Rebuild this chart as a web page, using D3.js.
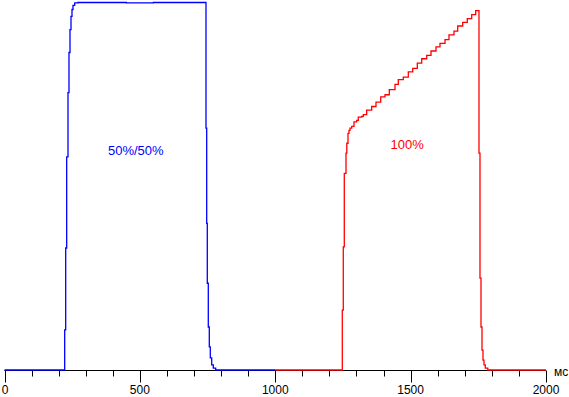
<!DOCTYPE html>
<html>
<head>
<meta charset="utf-8">
<script src="https://cdn.jsdelivr.net/npm/d3@7"></script>
<style>
  body { margin: 0; background: #fff; }
  svg { display: block; }
  text { font-family: "Liberation Sans", Arial, sans-serif; }
</style>
</head>
<body>
<div id="chart"></div>
<script>
// час у мс та яскравість (%)
var blueMs  = [0, 222.3, 226.0, 229.7, 234.5, 238.2, 241.9, 245.6, 249.3, 253.0, 259.3, 271.5,
               350, 450, 550, 650, 740, 744.2, 746.8, 749.0, 752.7, 756.4, 760.1, 765.3, 771.2, 780, 1000];
var blueVal = [0, 10.9, 33.2, 58.0, 75.5, 86.4, 92.6, 96.2, 98.1, 99.2, 99.9, 100,
               100, 99.9, 100, 100, 100, 65.8, 39.9, 23.6, 11.7, 6.3, 3.3, 1.4, 0.5, 0, 0];

var redMs  = [1000, 1247.6, 1251.3, 1255.0, 1261.3, 1264.3, 1268.7, 1272.4, 1276.1, 1282.4, 1290.8,
              1300.8, 1306.7, 1319.3, 1325.3, 1337.7, 1356.2, 1372.1, 1389.5, 1405.4, 1421.3,
              1442.3, 1454.5, 1473.0, 1491.4, 1507.7, 1524.7, 1540.9, 1559.4, 1575.3, 1593.7,
              1608.5, 1627.0, 1641.7, 1660.2, 1673.9, 1692.3, 1709.3, 1725.6, 1740.3,
              1752.5, 1756.2, 1759.9, 1763.6, 1767.3, 1771.0, 1775.8, 1785, 2000];
var redVal = [0, 16.3, 33.5, 53.5, 59.0, 61.7, 64.4, 65.2, 65.8, 66.3, 67.5,
              67.9, 68.8, 69.0, 69.5, 70.7, 71.7, 72.9, 74.3, 74.9, 76.3,
              77.7, 79.0, 79.7, 81.1, 82.1, 83.5, 84.7, 85.6, 86.8, 87.9,
              88.9, 89.9, 91.2, 92.2, 93.6, 94.6, 95.6, 96.7, 97.8,
              59.0, 25.0, 11.7, 5.4, 2.7, 1.4, 0.5, 0, 0];

var majorTicks = [0, 500, 1000, 1500, 2000];
var unitLabel = "мс";
var labels = [
    {text: "50%/50%", ms: 382, val: 58.5, color: "#0000ff"},
    {text: "100%", ms: 1426, val: 60.1, color: "#ff0000"}
];

var width = 569, height = 397;

var x = d3.scaleLinear()
    .domain([0, 2000])
    .range([4.5, 546]);
var y = d3.scaleLinear()
    .domain([0, 100])
    .range([370, 2.5]);

var svg = d3.select("#chart").append("svg")
    .attr("width", width)
    .attr("height", height);

var line = d3.line()
    .x(function(d) { return x(d.ms); })
    .y(function(d) { return y(d.v); })
    .curve(d3.curveStepAfter);

var toPoints = function(ms, val) {
    return ms.map(function(m, i) { return {ms: m, v: val[i]}; });
};

// вісь
var axis = svg.append("g")
    .attr("transform", "translate(0," + 370.5 + ")");
axis.append("line")
    .attr("x1", x(0)).attr("x2", x(2000))
    .attr("stroke", "#000");
axis.selectAll("line.tick")
    .data(d3.range(0, 2001, 100))
    .enter().append("line")
    .attr("class", "tick")
    .attr("x1", function(d) { return Math.round(x(d)) + 0.5; })
    .attr("x2", function(d) { return Math.round(x(d)) + 0.5; })
    .attr("y1", 0)
    .attr("y2", function(d) { return d % 500 === 0 ? 12 : 6; })
    .attr("stroke", "#000");
axis.selectAll("text.lbl")
    .data(majorTicks)
    .enter().append("text")
    .attr("class", "lbl")
    .attr("x", function(d) { return d === 0 ? x(d) + 0.5 : x(d); })
    .attr("y", 23.5)
    .attr("text-anchor", "middle")
    .attr("font-size", "12px")
    .attr("fill", "#000")
    .text(function(d) { return d; });
axis.append("text")
    .attr("x", 554)
    .attr("y", 5.5)
    .attr("font-size", "12px")
    .attr("fill", "#000")
    .text(unitLabel);

// криві
svg.append("path")
    .attr("d", line(toPoints(redMs, redVal)))
    .attr("fill", "none")
    .attr("stroke", "#ff0000")
    .attr("stroke-width", 1.3);
svg.append("path")
    .attr("d", line(toPoints(blueMs, blueVal)))
    .attr("fill", "none")
    .attr("stroke", "#0000ff")
    .attr("stroke-width", 1.3);

svg.selectAll("text.series")
    .data(labels)
    .enter().append("text")
    .attr("class", "series")
    .attr("x", function(d) { return x(d.ms); })
    .attr("y", function(d) { return y(d.val); })
    .attr("font-size", "13px")
    .attr("fill", function(d) { return d.color; })
    .text(function(d) { return d.text; });
</script>
</body>
</html>
